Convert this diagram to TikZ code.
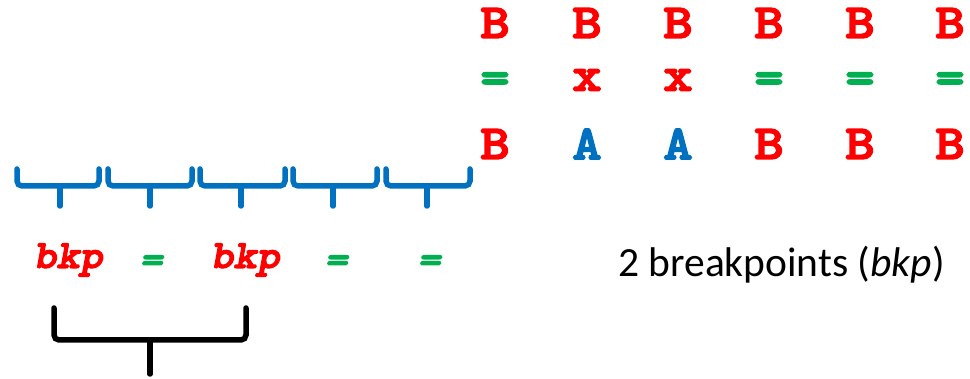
\documentclass[tikz,border=0pt]{standalone}
\usepackage{fontspec}
\setmainfont{Carlito}
\newfontfamily\cour{lmmonolt10-bold.otf}[FakeBold=3,FakeStretch=1.15]
\newfontfamily\couri{lmmonolt10-boldoblique.otf}[FakeBold=3,FakeStretch=1.1]
\definecolor{cred}{HTML}{FF0000}
\definecolor{cgreen}{HTML}{00B050}
\definecolor{cblue}{HTML}{0070C0}
\tikzset{
  big/.style={font=\cour\fontsize{49}{49}\selectfont, inner sep=0pt, anchor=center},
  small/.style={font=\couri\fontsize{40}{40}\selectfont, inner sep=0pt, anchor=center},
  bracepath/.style={line width=5.5pt, rounded corners=5pt, line cap=round},
}
\begin{document}
\begin{tikzpicture}[x=1pt,y=-1pt]
\useasboundingbox (0,0) rectangle (970,379);
% top rows
\foreach \x/\i in {495/1,587/2,678/3,769/4,860/5,950/6}{
  \node[big, text=cred] (t\i) at (\x,23) {B};
}
\node[big, text=cgreen] (m1) at (495,83) {=};
\node[big, text=cred] (m2) at (587,80) {x};
\node[big, text=cred] (m3) at (678,80) {x};
\node[big, text=cgreen] (m4) at (769,83) {=};
\node[big, text=cgreen] (m5) at (860,83) {=};
\node[big, text=cgreen] (m6) at (950,83) {=};
\node[big, text=cred] (b1) at (495,144) {B};
\node[big, text=cblue] (b2) at (587,144) {A};
\node[big, text=cblue] (b3) at (678,144) {A};
\node[big, text=cred] (b4) at (769,144) {B};
\node[big, text=cred] (b5) at (860,144) {B};
\node[big, text=cred] (b6) at (950,144) {B};
% blue braces
\foreach \a/\b/\m in {17/99/60,108/192/150,200/285/241,293/377/333,386/470/427}{
  \draw[bracepath, cblue] (\a,169) -- (\a,186) -- (\b,186) -- (\b,169);
  \draw[line width=5.5pt, cblue, line cap=round] (\m,186) -- (\m,206);
}
% bottom row
\node[small, text=cred] (k1) at (68,260) {bkp};
\node[small, text=cgreen] (e1) at (151,264) {=};
\node[small, text=cred] (k2) at (245,260) {bkp};
\node[small, text=cgreen] (e2) at (336,264) {=};
\node[small, text=cgreen] (e3) at (429,264) {=};
% black brace
\draw[bracepath, black] (54,308) -- (54,340) -- (246,340) -- (246,308);
\draw[line width=5.5pt, black, line cap=round] (150,340) -- (150,374);
% label
\node[font=\fontsize{41.5}{41.5}\selectfont, inner sep=0pt, anchor=west] (lbl) at (618,265) {2 breakpoints (\textit{bkp})};
\end{tikzpicture}
\end{document}
